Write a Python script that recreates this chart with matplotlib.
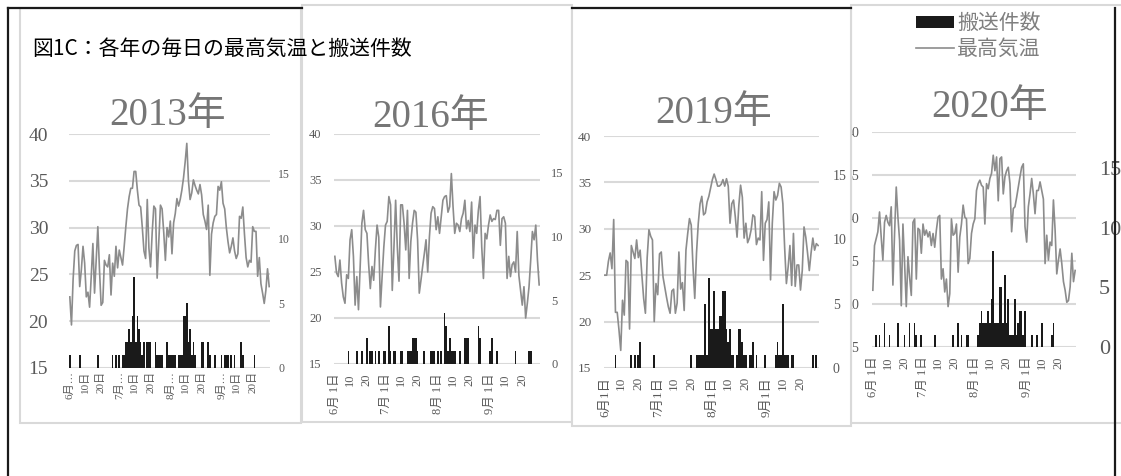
import numpy as np
import matplotlib.pyplot as plt
from matplotlib.patches import Rectangle
from matplotlib.lines import Line2D

# daily data, June 1 - Sept 30 (122 days)
temp_2013 = [22.6, 19.6, 24.5, 27.5, 28.1, 28.2, 23.7, 25.5, 28.0, 26.2,
             22.6, 23.1, 21.5, 24.8, 28.3, 23.0, 26.5, 30.1, 25.5, 21.7,
             22.0, 26.5, 26.0, 25.8, 27.1, 22.8, 26.2, 24.8, 28.0, 25.7,
             27.6, 26.8, 26.0, 28.0, 30.1, 32.0, 33.3, 34.2, 34.2, 36.0,
             36.0, 34.0, 32.4, 32.2, 30.0, 27.5, 26.7, 33.0, 27.8, 25.8,
             29.5, 32.3, 32.0, 24.6, 28.5, 32.4, 32.0, 29.5, 26.5, 30.0,
             29.0, 30.7, 27.2, 30.5, 31.5, 33.1, 32.3, 33.0, 34.0, 35.3,
             37.0, 39.0, 35.0, 33.0, 33.7, 35.1, 34.5, 34.0, 33.6, 34.6,
             33.5, 31.4, 30.7, 29.8, 32.4, 24.9, 29.3, 30.5, 31.2, 31.4,
             34.4, 34.0, 34.9, 32.6, 32.0, 30.0, 28.5, 27.3, 28.0, 28.9,
             27.5, 26.7, 27.2, 31.2, 31.0, 32.2, 29.3, 26.8, 25.8, 26.5,
             26.3, 30.1, 29.6, 29.6, 24.8, 26.8, 24.0, 23.0, 21.9, 23.3,
             25.6, 23.7]
count_2013 = [1, 0, 0, 0, 0, 0, 1, 0, 0, 0, 0, 0, 0, 0, 0, 0, 0, 1, 0, 0,
              0, 0, 0, 0, 0, 0, 1, 0, 1, 0, 1, 0, 1, 1, 2, 2, 3, 2, 4, 7,
              2, 4, 3, 2, 1, 2, 0, 2, 2, 2, 0, 0, 2, 1, 1, 1, 1, 0, 0, 2,
              1, 1, 1, 1, 1, 0, 1, 1, 1, 4, 4, 5, 2, 3, 1, 2, 1, 0, 0, 0,
              2, 2, 0, 0, 2, 1, 0, 0, 1, 0, 0, 0, 1, 0, 1, 1, 1, 0, 1, 0,
              1, 0, 0, 0, 2, 1, 0, 0, 0, 0, 0, 0, 1, 0, 0, 0, 0, 0, 0, 0,
              0, 0]

temp_2016 = [26.7, 24.9, 24.5, 26.3, 23.8, 22.3, 21.6, 24.7, 24.3, 28.5,
             29.6, 26.7, 21.4, 24.5, 20.9, 25.6, 30.3, 31.7, 29.6, 29.2,
             25.9, 23.2, 25.6, 24.1, 27.4, 30.1, 28.8, 21.2, 24.5, 27.7,
             30.1, 30.5, 33.2, 32.3, 23.0, 27.7, 32.8, 27.7, 24.0, 32.3,
             32.3, 30.3, 27.4, 31.7, 24.3, 28.3, 30.3, 31.7, 31.5, 28.5,
             22.7, 24.1, 25.6, 27.0, 28.5, 25.0, 28.8, 31.4, 32.1, 31.9,
             29.6, 31.0, 29.2, 31.0, 32.8, 33.2, 33.3, 31.5, 32.1, 35.7,
             32.1, 29.2, 30.3, 30.1, 29.4, 30.8, 31.4, 32.8, 29.7, 30.6,
             29.4, 32.6, 26.5, 30.1, 29.2, 31.7, 33.2, 27.7, 24.3, 29.2,
             28.6, 30.1, 31.2, 30.5, 30.8, 30.7, 31.7, 31.7, 27.9, 30.8,
             31.0, 30.3, 24.3, 26.7, 24.5, 25.8, 26.1, 25.0, 29.4, 24.6,
             23.0, 21.4, 23.4, 20.0, 21.6, 23.4, 26.3, 29.4, 28.5, 30.1,
             26.3, 23.6]
count_2016 = [0, 0, 0, 0, 0, 0, 0, 0, 1, 0, 0, 0, 0, 1, 0, 0, 1, 0, 0, 2,
              0, 1, 1, 0, 1, 0, 1, 0, 0, 1, 1, 0, 3, 1, 0, 1, 1, 0, 0, 1,
              1, 0, 0, 1, 1, 1, 2, 2, 2, 1, 0, 0, 0, 1, 0, 0, 0, 1, 1, 1,
              0, 1, 0, 1, 0, 4, 3, 1, 2, 1, 1, 1, 0, 0, 1, 0, 0, 2, 2, 2,
              0, 0, 0, 0, 0, 3, 2, 0, 0, 0, 0, 0, 1, 2, 0, 0, 1, 0, 0, 0,
              0, 0, 0, 0, 0, 0, 0, 1, 0, 0, 0, 0, 0, 0, 0, 1, 1, 0, 0, 0,
              0, 0]

temp_2019 = [25.0, 25.0, 26.5, 27.4, 25.7, 31.0, 21.0, 21.0, 19.1, 16.9,
             22.3, 20.7, 26.6, 26.4, 19.2, 28.2, 27.5, 26.8, 28.8, 26.9,
             27.7, 25.0, 22.5, 20.9, 26.9, 29.9, 29.2, 28.8, 20.0, 24.1,
             22.9, 27.3, 27.5, 24.8, 23.7, 22.6, 21.6, 20.9, 23.3, 23.5,
             20.9, 22.0, 27.5, 23.5, 24.2, 21.2, 27.7, 29.5, 31.1, 30.4,
             25.9, 22.5, 27.4, 30.6, 32.7, 33.5, 31.5, 31.7, 32.9, 33.5,
             34.4, 35.3, 35.9, 35.3, 34.6, 34.6, 34.8, 35.3, 34.6, 35.4,
             34.6, 30.6, 32.7, 33.1, 31.3, 29.1, 32.5, 34.7, 33.4, 29.0,
             30.6, 28.5, 29.0, 29.9, 31.5, 31.3, 28.3, 29.0, 28.8, 34.0,
             26.6, 30.6, 31.0, 32.9, 24.5, 30.6, 34.0, 33.1, 33.6, 34.9,
             34.5, 32.7, 28.0, 24.1, 25.9, 28.2, 23.9, 29.5, 23.8, 26.1,
             26.1, 23.4, 25.5, 30.2, 29.1, 27.4, 25.5, 27.4, 29.0, 27.7,
             28.4, 28.2]
count_2019 = [0, 0, 0, 0, 0, 0, 1, 0, 0, 0, 0, 0, 0, 0, 0, 1, 0, 1, 0, 1,
              2, 0, 0, 0, 0, 0, 0, 0, 1, 0, 0, 0, 0, 0, 0, 0, 0, 0, 0, 0,
              0, 0, 0, 0, 0, 0, 0, 0, 0, 1, 0, 0, 1, 1, 1, 1, 1, 5, 1, 7,
              3, 3, 6, 3, 3, 4, 4, 6, 6, 3, 2, 3, 1, 1, 0, 1, 3, 3, 2, 1,
              1, 0, 1, 1, 2, 0, 1, 0, 0, 0, 0, 1, 0, 0, 0, 0, 0, 1, 2, 1,
              1, 5, 1, 1, 1, 0, 1, 1, 0, 0, 0, 0, 0, 0, 0, 0, 0, 0, 1, 0,
              1, 0]

temp_2020 = [21.6, 26.8, 27.6, 28.4, 30.7, 27.8, 25.1, 29.5, 30.3, 29.5,
             29.1, 31.3, 22.2, 28.2, 33.6, 30.1, 27.4, 19.8, 29.3, 24.7,
             19.7, 25.5, 23.1, 21.0, 29.5, 29.9, 22.9, 28.8, 28.6, 25.9,
             29.3, 28.0, 28.6, 27.8, 28.4, 26.8, 28.2, 26.6, 28.6, 30.1,
             30.3, 22.9, 24.1, 21.4, 22.9, 19.7, 21.2, 29.9, 28.0, 28.2,
             29.3, 23.7, 27.8, 29.3, 31.5, 30.1, 29.9, 24.7, 25.3, 28.2,
             29.3, 29.9, 33.2, 34.0, 34.4, 33.8, 33.6, 29.3, 34.0, 33.4,
             34.6, 35.2, 37.3, 35.5, 37.1, 32.0, 36.9, 37.1, 32.8, 34.8,
             35.5, 35.9, 34.0, 28.4, 31.1, 31.3, 32.4, 33.6, 34.8, 35.9,
             36.3, 29.0, 27.2, 31.3, 32.8, 34.6, 32.8, 30.5, 33.2, 33.2,
             34.2, 33.2, 32.2, 24.7, 28.0, 25.1, 27.2, 26.8, 32.1, 28.6,
             23.5, 25.1, 26.4, 24.7, 22.6, 21.6, 20.2, 20.4, 22.0, 25.9,
             22.6, 23.9]
count_2020 = [0, 0, 1, 0, 1, 0, 0, 2, 0, 0, 1, 0, 0, 0, 0, 2, 0, 0, 0, 1,
              0, 0, 2, 0, 0, 2, 1, 0, 0, 1, 0, 0, 0, 0, 0, 0, 0, 1, 0, 0,
              0, 0, 0, 0, 0, 0, 0, 0, 1, 0, 0, 2, 0, 1, 0, 0, 1, 1, 0, 0,
              0, 0, 0, 1, 2, 3, 2, 2, 2, 3, 2, 4, 8, 2, 2, 2, 5, 5, 2, 6,
              2, 4, 1, 1, 1, 4, 1, 2, 3, 3, 1, 3, 0, 0, 0, 1, 0, 0, 1, 0,
              0, 2, 0, 0, 0, 0, 0, 1, 2, 0, 0, 0, 0, 0, 0, 0, 0, 0, 0, 0,
              0, 0]

tick_days = [0, 9, 19, 30, 39, 49, 61, 70, 80, 92, 101, 111]
labels_2013 = ['6月…', '10日', '20日', '7月…', '10日', '20日',
               '8月…', '10日', '20日', '9月…', '10日', '20日']
labels_2016 = ['6月 1日', '10', '20', '7月 1日', '10', '20',
               '8月 1日', '10', '20', '9月 1日', '10', '20']
labels_2019 = ['6月1日', '10', '20', '7月1日', '10', '20',
               '8月1日', '10', '20', '9月1日', '10', '20']
labels_2020 = labels_2016

W, H = 1121, 476
SERIF = ['Liberation Serif', 'Noto Sans CJK JP']
GOTHIC = ['Noto Sans CJK JP', 'DejaVu Sans']
GRID = '#d9d9d9'
LINE = '#8c8c8c'
BAR = '#1a1a1a'
LABEL = '#595959'

fig = plt.figure(figsize=(W / 100, H / 100), dpi=100)


def fx(x):
    return x / W


def fy(y):
    return 1 - y / H


def rect(x0, y0, x1, y1):
    return [fx(x0), fy(y1), (x1 - x0) / W, (y1 - y0) / H]


def panel(temps, counts, labels, title, plot_px, frame_px, title_xy, z,
          lsize, rsize, xsize, lpad, rpad, xpad, rmax=18):
    x0, y0, x1, y1 = frame_px
    fig.add_artist(Rectangle((fx(x0), fy(y1)), (x1 - x0) / W, (y1 - y0) / H,
                             transform=fig.transFigure, facecolor='white',
                             edgecolor=GRID, lw=1.5, zorder=z))
    days = np.arange(len(temps))

    ax = fig.add_axes(rect(*plot_px), zorder=z + 0.1)
    ax.set_facecolor('none')
    ax.set_xlim(-0.5, 121.5)
    ax.set_ylim(15, 40)
    ax.set_yticks(range(15, 41, 5), labels=[str(v) for v in range(15, 41, 5)],
                  fontsize=lsize, family=SERIF, color=LABEL)
    ax.set_xticks(tick_days, labels=labels, fontsize=xsize, family=SERIF,
                  color=LABEL, rotation=90)
    ax.tick_params(axis='both', length=0)
    ax.tick_params(axis='y', pad=lpad)
    ax.tick_params(axis='x', pad=xpad)
    ax.grid(axis='y', color=GRID, lw=1.5)
    for s in ax.spines.values():
        s.set_visible(False)

    ax2 = ax.twinx()
    ax2.set_zorder(z + 0.2)
    ax2.patch.set_visible(False)
    bars = ax2.bar(days, counts, width=1.0, color=BAR, linewidth=0)
    ax2.set_ylim(0, rmax)
    ax2.set_yticks([0, 5, 10, 15], labels=['0', '5', '10', '15'],
                   fontsize=rsize, family=SERIF, color=LABEL)
    ax2.tick_params(axis='y', length=0, pad=rpad)
    for s in ax2.spines.values():
        s.set_visible(False)

    ax3 = ax.twinx()
    ax3.set_zorder(z + 0.3)
    ax3.patch.set_visible(False)
    line, = ax3.plot(days, temps, color=LINE, lw=1.2)
    ax3.set_ylim(15, 40)
    ax3.set_yticks([])
    for s in ax3.spines.values():
        s.set_visible(False)

    fig.text(fx(title_xy[0]), fy(title_xy[1]), title, ha='center', va='center',
             fontsize=28, family=SERIF, color='#767676', zorder=z + 0.4)
    return bars, line


panel(temp_2020, count_2020, labels_2020, '2020年', (872, 132, 1076, 347),
      (851, 5, 1130, 423), (990, 107), 1, 10, 16, 9, 9, 16.5, 7)
panel(temp_2013, count_2013, labels_2013, '2013年', (69, 134, 270, 368),
      (20, 8, 301, 423), (168, 115), 2, 14, 8.5, 8, 15, 6, 2)
panel(temp_2016, count_2016, labels_2016, '2016年', (334, 134, 540, 364),
      (302, 5, 572, 422), (431, 117), 3, 9, 9, 9, 9, 8, 6.5)
bars, line = panel(temp_2019, count_2019, labels_2019, '2019年',
                   (604, 136, 819, 368), (572, 8, 851, 426), (714, 114), 4,
                   9.5, 10, 9.5, 9, 10, 6.5)

# outer black frame
for xs, ys in [([8, 8], [8, 476]), ([1115, 1115], [8, 476]),
               ([8, 302], [8, 8]), ([572, 851], [8, 8])]:
    fig.add_artist(Line2D([fx(v) for v in xs], [fy(v) for v in ys],
                          transform=fig.transFigure, color='#1a1a1a', lw=1.6,
                          zorder=10))

fig.text(fx(32), fy(49), '図1C：各年の毎日の最高気温と搬送件数', ha='left',
         va='center', fontsize=15, family=GOTHIC, color='black', zorder=11)

leg = fig.legend([bars, line], ['搬送件数', '最高気温'], loc='upper left',
                 bbox_to_anchor=(fx(906), fy(2)), frameon=False,
                 prop={'family': GOTHIC, 'size': 15}, labelcolor='#7f7f7f',
                 handlelength=1.8, handleheight=0.5, handletextpad=0.15,
                 labelspacing=0.15, borderpad=0)
leg.set_zorder(12)

fig.savefig('out.png', dpi=100)
